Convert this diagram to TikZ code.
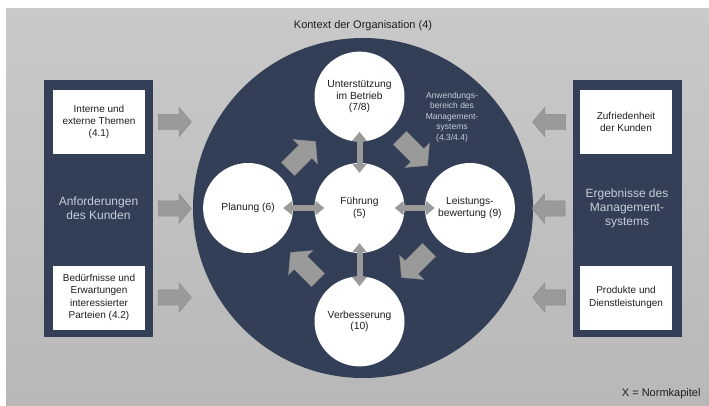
\documentclass[tikz,border=0pt]{standalone}
\usepackage{fontspec}
\setmainfont{Liberation Sans}
\usetikzlibrary{positioning}
\usetikzlibrary{shapes.arrows}
\usetikzlibrary{arrows.meta}
\definecolor{mnavy}{HTML}{333F56}
\definecolor{mgrey}{HTML}{9A9A9A}
\definecolor{mgreyline}{HTML}{8A8A8A}
\definecolor{mpale}{HTML}{C9CED8}
\definecolor{mbgtop}{HTML}{C9C9C9}
\definecolor{mbgbot}{HTML}{B8B8B8}
\definecolor{mtext}{HTML}{1E1E1E}
\tikzset{panel/.style = {fill=mnavy, minimum width=109pt, minimum height=257pt, inner sep=0pt,
                         text=mpale, align=center, font=\fontsize{12}{14}\selectfont},
         whitebox/.style = {fill=white, minimum width=92pt, minimum height=64pt, inner sep=0pt,
                            text=mtext, align=center, font=\fontsize{10}{12.3}\selectfont},
         bubble/.style = {circle, fill=white, minimum size=90pt, inner sep=0pt,
                          text=mtext, align=center, font=\fontsize{10.3}{11.5}\selectfont},
         fatarrow/.style = {single arrow, fill=mgrey, draw=mgreyline, line width=0.4pt,
                            inner xsep=0pt, inner ysep=7.5pt, minimum height=33pt,
                            single arrow head extend=7pt, single arrow tip angle=100},
         bigarrow/.style = {fatarrow, inner ysep=9pt, minimum height=39pt,
                            single arrow head extend=8pt},
         dblarrow/.style = {draw=mgrey, line width=6pt,
                            {Triangle[width=14pt,length=9pt]}-{Triangle[width=14pt,length=9pt]},
                            shorten <=-10pt, shorten >=-10pt}}

\begin{document}
\begin{tikzpicture}[x=1pt, y=-1pt]
    \useasboundingbox (0, 0) rectangle (709, 405);
    \fill [white] (0, 0) rectangle (709, 405);
    \shade [top color=mbgtop, bottom color=mbgbot] (6, 8) rectangle (709, 405);

    % Kontext
    \node [circle, fill=mnavy, minimum size=340pt, inner sep=0pt] (kreis) at (363, 208) {};
    \node [above=3pt of kreis, text=mtext, font=\fontsize{11}{13}\selectfont] (kontext) {Kontext der Organisation (4)};

    % Seitenbalken
    \node [panel] (anford) at (98.5, 208.5) {Anforderungen\\des Kunden};
    \node [panel] (ergeb) at (627, 208.5) {Ergebnisse des\\Management-\\systems};
    \node [whitebox] (intern) at (99, 122) {Interne und\\externe Themen\\(4.1)};
    \node [whitebox] (beduerf) at (99, 297.5) {Bedürfnisse und\\Erwartungen\\interessierter\\Parteien (4.2)};
    \node [whitebox] (zufried) at (626, 122) {Zufriedenheit\\der Kunden};
    \node [whitebox] (produkt) at (626, 297.5) {Produkte und\\Dienstleistungen};

    \node [fatarrow, right=13pt of intern] (pfeilA) {};
    \node [fatarrow, right=5pt of anford] (pfeilB) {};
    \node [fatarrow, right=13pt of beduerf] (pfeilC) {};
    \node [fatarrow, shape border rotate=180, left=14pt of zufried] (pfeilD) {};
    \node [fatarrow, shape border rotate=180, left=7pt of ergeb] (pfeilE) {};
    \node [fatarrow, shape border rotate=180, left=14pt of produkt] (pfeilF) {};

    % Kreise
    \node [bubble] (fuehr) at (359.5, 208) {Führung\\(5)};
    \node [bubble, above=21pt of fuehr] (unter) {Unterstützung\\im Betrieb\\(7/8)};
    \node [bubble, below=23pt of fuehr] (verbess) {Verbesserung\\(10)};
    \node [bubble, left=21pt of fuehr] (planung) {Planung (6)};
    \node [bubble, right=20pt of fuehr] (leistung) {Leistungs-\\bewertung (9)};

    \node [text=mpale, align=center, font=\fontsize{8.5}{10.5}\selectfont] (anwend) at (452, 117)
        {Anwendungs-\\bereich des\\Management-\\systems\\(4.3/4.4)};

    \draw [dblarrow] (fuehr) -- (unter);
    \draw [dblarrow] (fuehr) -- (verbess);
    \draw [dblarrow] (fuehr) -- (planung);
    \draw [dblarrow] (fuehr) -- (leistung);

    \node [bigarrow, rotate=45] (pfeilNW) at (299, 158) {};
    \node [bigarrow, rotate=-45] (pfeilNO) at (411, 149) {};
    \node [bigarrow, rotate=-135] (pfeilSO) at (418, 261) {};
    \node [bigarrow, rotate=135] (pfeilSW) at (307, 269) {};

    \node [anchor=east, text=mtext, font=\fontsize{11}{13}\selectfont] (legende) at (704, 394) {X = Normkapitel};
  \end{tikzpicture}
\end{document}
